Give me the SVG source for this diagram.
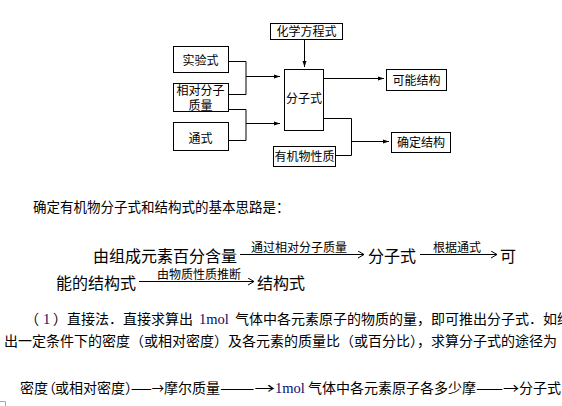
<svg xmlns="http://www.w3.org/2000/svg" width="562" height="406" viewBox="0 0 562 406">
<defs>
<style>
.box{fill:#fff;stroke:#000;stroke-width:1}
.t{font-family:"Noto Sans CJK SC","Noto Sans",sans-serif;fill:#000}
.bt{font-size:12px;text-anchor:middle}
.ln{fill:none;stroke:#000;stroke-width:1}
.s{font-family:"Liberation Serif",serif}
.ar{font-family:"Noto Sans CJK SC",sans-serif;fill:#000}
</style>
<marker id="ah" viewBox="0 0 6 6" refX="6" refY="3" markerWidth="6" markerHeight="6" orient="auto" markerUnits="userSpaceOnUse">
<path d="M0,1 L6,3 L0,5 Z" fill="#000"/>
</marker>
<marker id="chev" viewBox="0 0 8 8" refX="8" refY="4" markerWidth="8" markerHeight="8" orient="auto" markerUnits="userSpaceOnUse">
<path d="M2,0.5 L8,4 L2,7.5" fill="none" stroke="#000" stroke-width="1"/>
</marker>
</defs>
<rect width="562" height="406" fill="#fff"/>

<g id="connectors">
<path class="ln" d="M228,61.5 H246 V94.5 H228"/>
<path class="ln" d="M246,76.5 H280" marker-end="url(#ah)"/>
<path class="ln" d="M228,109.5 H246 V140.5 H228"/>
<path class="ln" d="M246,123.5 H280" marker-end="url(#ah)"/>
<path class="ln" d="M304.5,39 V67" marker-end="url(#ah)"/>
<path class="ln" d="M323,78.5 H384" marker-end="url(#ah)"/>
<path class="ln" d="M323,118.5 H351.5 V155.5 H336"/>
<path class="ln" d="M351.5,141.5 H389" marker-end="url(#ah)"/>
</g>

<g id="n-huaxue"><rect class="box" x="270.5" y="23.5" width="72" height="16"/><text class="t bt" x="306.5" y="36">化学方程式</text></g>
<g id="n-shiyan"><rect class="box" x="173.5" y="46.5" width="55" height="26"/><text class="t bt" x="200.5" y="64.5">实验式</text></g>
<g id="n-xiangdui"><rect class="box" x="173.5" y="83.5" width="55" height="28"/><text class="t bt" x="200.5" y="94.5">相对分子</text><text class="t bt" x="200.5" y="110">质量</text></g>
<g id="n-tongshi"><rect class="box" x="173.5" y="122.5" width="55" height="28"/><text class="t bt" x="200.5" y="142.5">通式</text></g>
<g id="n-fenzi"><rect class="box" x="284.5" y="69.5" width="39" height="61"/><text class="t bt" x="304" y="103">分子式</text></g>
<g id="n-keneng"><rect class="box" x="386.5" y="69.5" width="60" height="21"/><text class="t bt" x="416.5" y="84.5">可能结构</text></g>
<g id="n-queding"><rect class="box" x="391.5" y="132.5" width="59" height="20"/><text class="t bt" x="421" y="146.5">确定结构</text></g>
<g id="n-youji"><rect class="box" x="273.5" y="146.5" width="62" height="20"/><text class="t bt" x="304.5" y="161">有机物性质</text></g>

<text class="t" x="33" y="212" font-size="13.5">确定有机物分子式和结构式的基本思路是：</text>

<g id="row2">
<text class="t" x="93" y="262" font-size="16">由组成元素百分含量</text>
<path class="ln" d="M240,254.5 H364" marker-end="url(#chev)"/>
<text class="t" x="251" y="252" font-size="12">通过相对分子质量</text>
<text class="t" x="368" y="262" font-size="16">分子式</text>
<path class="ln" d="M420,254.5 H497" marker-end="url(#chev)"/>
<text class="t" x="433" y="252" font-size="12">根据通式</text>
<text class="t" x="500" y="262" font-size="16">可</text>
</g>
<g id="row3">
<text class="t" x="56" y="289" font-size="16">能的结构式</text>
<path class="ln" d="M139,281.5 H254" marker-end="url(#chev)"/>
<text class="t" x="157" y="279" font-size="12">由物质性质推断</text>
<text class="t" x="257" y="289" font-size="16">结构式</text>
</g>

<g id="para" font-size="14">
<text class="t" x="25" y="324">（</text>
<text class="s" x="43" y="324" font-size="14.5" fill="#0a0a6e">1</text>
<text class="t" x="53" y="324">）</text>
<text class="t" x="67" y="324">直接法．直接求算出</text>
<text class="s" x="199" y="324" font-size="14.5" fill="#0a0a6e">1mol</text>
<text class="t" x="235" y="324">气体中各元素原子的物质的量，即可推出分子式．如给</text>
<text class="t" x="4" y="346">出一定条件下的密度（或相对密度）及各元素的质量比（或百分比），求算分子式的途径为</text>
</g>

<g id="last" font-size="14">
<text class="t" x="20 34 42 55 69 83 97 111 125" y="393">密度（或相对密度）</text>
<text class="ar" x="131" y="393" textLength="33" lengthAdjust="spacingAndGlyphs">——→</text>
<text class="t" x="164" y="393">摩尔质量</text>
<text class="ar" x="220" y="393" textLength="55" lengthAdjust="spacingAndGlyphs">——→</text>
<text class="s" x="275" y="393" font-size="14.5" fill="#0a0a6e">1mol</text>
<text class="t" x="308" y="393">气体中各元素原子各多少摩</text>
<text class="ar" x="476" y="393" textLength="43" lengthAdjust="spacingAndGlyphs">——→</text>
<text class="t" x="519" y="393">分子式</text>
</g>
<path d="M0,401.5 H5.5 V406" fill="none" stroke="#aaa" stroke-width="1"/>
</svg>
